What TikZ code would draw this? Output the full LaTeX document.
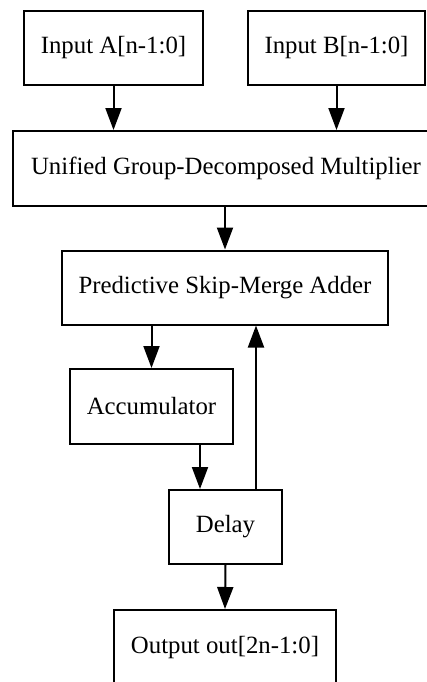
\documentclass[tikz,border=0pt]{standalone}
\usepackage{fontspec}
\setmainfont{Liberation Serif}
\usetikzlibrary{arrows.meta}

\begin{document}
\begin{tikzpicture}[x=0.5pt, y=-0.5pt,
  block/.style={draw, line width=1pt, inner sep=0pt, minimum height=37pt,
                font=\fontsize{12.4}{14}\selectfont},
  link/.style={line width=1pt, -{Triangle[length=11pt,width=8pt]}}]

\clip (0,0) rectangle (427,682);
\fill[white] (0,0) rectangle (427,682);

% -------- blocks -----------
\node[block, minimum width=89.5pt] (inA)   at (113.5, 48)   {Input A[n-1:0]};
\node[block, minimum width=88.5pt] (inB)   at (336.5, 48)   {Input B[n-1:0]};
\node[block, minimum width=213pt, minimum height=37.5pt]
                                   (mult)  at (226, 168.5)  {Unified Group-Decomposed Multiplier};
\node[block, minimum width=163pt]  (adder) at (225, 287.5)  {Predictive Skip-Merge Adder};
\node[block, minimum width=81.5pt, minimum height=37.5pt]
                                   (acc)   at (151.5, 406.5) {Accumulator};
\node[block, minimum width=56.5pt] (delay) at (225.5, 527)  {Delay};
\node[block, minimum width=111pt, minimum height=37.5pt]
                                   (out)   at (225, 647.5)  {Output out[2n-1:0]};

\coordinate (accin) at ([xshift=16pt]delay.north west);
\coordinate (fback) at ([xshift=44pt]delay.north west);

% -------- connections -----------
\draw[link] (inA.south) -- (inA.south |- mult.north);
\draw[link] (inB.south) -- (inB.south |- mult.north);
\draw[link] (adder.north |- mult.south) -- (adder.north);
\draw[link] (acc.north |- adder.south) -- (acc.north);
\draw[link] (accin |- acc.south) -- (accin);
\draw[link] (fback) -- (fback |- adder.south);
\draw[link] (delay.south) -- (out.north);
\end{tikzpicture}
\end{document}
